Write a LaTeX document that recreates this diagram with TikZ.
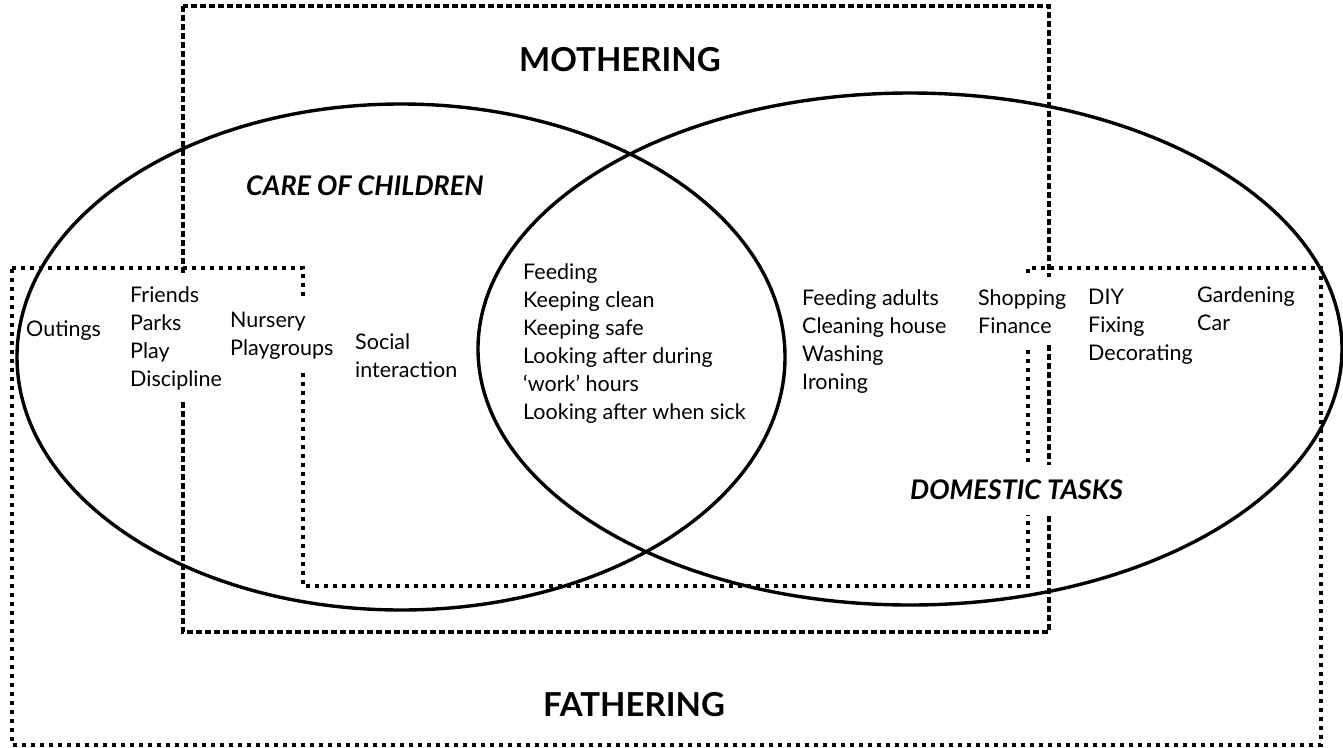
\documentclass[tikz,border=0pt]{standalone}
\usepackage{fontspec}
\setmainfont{Lato}
\usetikzlibrary{positioning}

\tikzset{
  item/.style={align=left,anchor=north west,inner xsep=2pt,inner ysep=12pt,
    font=\fontsize{21.5}{28}\selectfont},
  cover/.style={fill=white},
  heading/.style={anchor=north,inner sep=0pt,font=\fontsize{33}{35}\selectfont\bfseries},
  setname/.style={anchor=north west,inner xsep=2pt,inner ysep=12pt,
    font=\fontsize{27}{29}\selectfont\bfseries\itshape},
  motherline/.style={line width=3.2pt,dash pattern=on 6pt off 3pt},
  fatherline/.style={line width=3.2pt,dash pattern=on 4pt off 5pt},
  setline/.style={line width=3.4pt}
}

\begin{document}
\begin{tikzpicture}[x=1pt,y=-1pt]
\useasboundingbox (0,0) rectangle (1343,747);

% mothering and fathering areas
\draw[motherline] (183,6) rectangle (1049,632);
\draw[fatherline] (12,268) -- (303,268) -- (303,586) -- (1028,586) -- (1028,268)
  -- (1321,268) -- (1321,745) -- (12,745) -- cycle;

% headings
\node[heading] (mothering) at (620,47) {MOTHERING};
\node[heading] (fathering) at (634,692) {FATHERING};
\node[setname] (care) at (244,164) {CARE OF CHILDREN};
\node[setname,cover,inner ysep=15pt] (domestic) at (908,465) {DOMESTIC TASKS};

% children only
\node[item] (outings) at (24,309) {Outings};
\node[item,cover] (friends) at (128,274) {Friends\\Parks\\Play\\Discipline};
\node[item,cover] (nursery) at (228,300) {Nursery\\Playgroups};
\node[item] (social) at (353,321) {Social\\interaction};

% both
\node[item] (shared) at (521,251) {Feeding\\Keeping clean\\Keeping safe\\Looking after during\\
  `work' hours\\Looking after when sick};

% domestic only
\node[item] (house) at (800,277) {Feeding adults\\Cleaning house\\Washing\\Ironing};
\node[item,cover] (shopping) at (976,277) {Shopping\\Finance};
\node[item] (diy) at (1086,277) {DIY\\Fixing\\Decorating};
\node[item] (garden) at (1195,274) {Gardening\\Car};

% the two sets
\draw[setline] (401,357) ellipse [x radius=384, y radius=253];
\draw[setline] (910,349) ellipse [x radius=432, y radius=256];
\end{tikzpicture}
\end{document}
